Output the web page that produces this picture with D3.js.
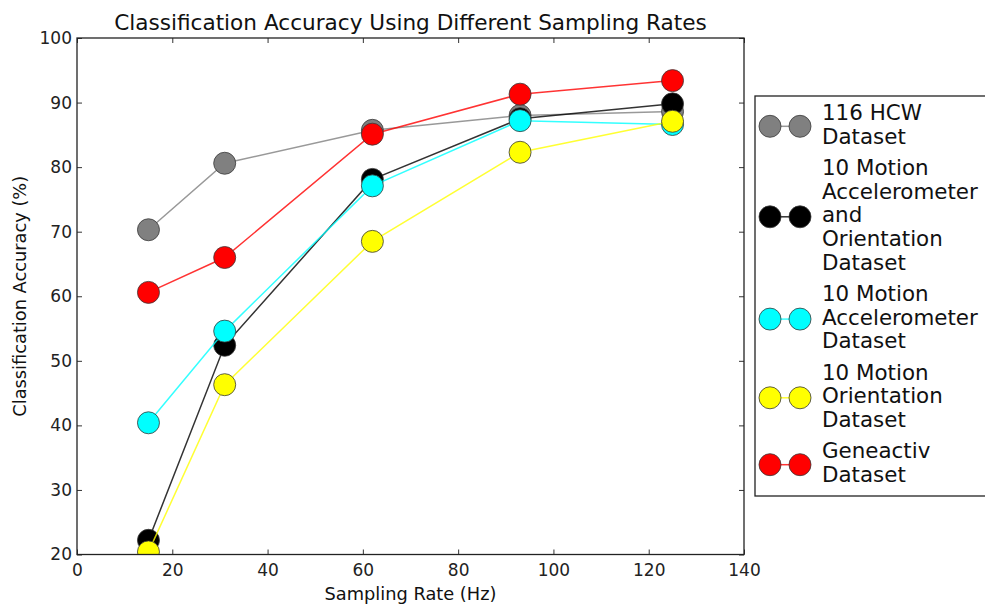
<!DOCTYPE html>
<html>
<head>
<meta charset="utf-8">
<script src="https://cdn.jsdelivr.net/npm/d3@7"></script>
<style>
  html, body { margin: 0; padding: 0; background: #fff; }
  svg { display: block; font-family: "DejaVu Sans", sans-serif; }
</style>
</head>
<body>
<svg id="chart" width="985" height="610"></svg>
<script>
// Sampling rates (Hz) shared by every dataset
const samplingRates = [15, 31, 62, 93, 125];

// Classification accuracy (%) per dataset
const hcw116 = [70.3, 80.6, 85.7, 88.0, 88.6];
const motionAccOri = [22.2, 52.4, 78.1, 87.5, 89.8];
const motionAcc = [40.4, 54.6, 77.1, 87.2, 86.6];
const motionOri = [20.4, 46.3, 68.5, 82.3, 87.1];
const geneactiv = [60.6, 66.0, 85.1, 91.3, 93.4];

const seriesNames = [
  ["116 HCW", "Dataset"],
  ["10 Motion", "Accelerometer", "and", "Orientation", "Dataset"],
  ["10 Motion", "Accelerometer", "Dataset"],
  ["10 Motion", "Orientation", "Dataset"],
  ["Geneactiv", "Dataset"]
];
const seriesValues = [hcw116, motionAccOri, motionAcc, motionOri, geneactiv];
const seriesColors = ["#808080", "#000000", "#00ffff", "#ffff00", "#ff0000"];

const xTicks = [0, 20, 40, 60, 80, 100, 120, 140];
const yTicks = [20, 30, 40, 50, 60, 70, 80, 90, 100];

const titleText = "Classification Accuracy Using Different Sampling Rates";
const xLabel = "Sampling Rate (Hz)";
const yLabel = "Classification Accuracy (%)";

const svg = d3.select("#chart");
const plot = { left: 77, right: 744, top: 38, bottom: 554.5 };

const x = d3.scaleLinear().domain([0, 140]).range([plot.left, plot.right]);
const y = d3.scaleLinear().domain([20, 100]).range([plot.bottom, plot.top]);

svg.append("defs").append("clipPath").attr("id", "plotClip")
  .append("rect")
  .attr("x", plot.left).attr("y", plot.top)
  .attr("width", plot.right - plot.left).attr("height", plot.bottom - plot.top);

// Ticks point inwards on all four sides
const tickLen = 5;
const axisStyle = g => {
  g.select(".domain").remove();
  g.selectAll(".tick line").attr("stroke", "#333").attr("stroke-width", 1);
  g.selectAll(".tick text").attr("fill", "#222").attr("font-size", 17)
    .attr("font-family", "DejaVu Sans, sans-serif");
};

svg.append("g").attr("transform", `translate(0,${plot.bottom})`)
  .call(d3.axisBottom(x).tickValues(xTicks).tickFormat(d3.format("d"))
    .tickSizeInner(-tickLen).tickSizeOuter(0).tickPadding(10))
  .call(axisStyle)
  .call(g => g.selectAll(".tick text").attr("dy", "0.71em").attr("y", 9));

svg.append("g").attr("transform", `translate(0,${plot.top})`)
  .call(d3.axisTop(x).tickValues(xTicks).tickFormat("").tickSizeInner(-tickLen).tickSizeOuter(0))
  .call(axisStyle);

svg.append("g").attr("transform", `translate(${plot.left},0)`)
  .call(d3.axisLeft(y).tickValues(yTicks).tickFormat(d3.format("d"))
    .tickSizeInner(-tickLen).tickSizeOuter(0).tickPadding(7))
  .call(axisStyle)
  .call(g => g.selectAll(".tick text").attr("x", -5));

svg.append("g").attr("transform", `translate(${plot.right},0)`)
  .call(d3.axisRight(y).tickValues(yTicks).tickFormat("").tickSizeInner(-tickLen).tickSizeOuter(0))
  .call(axisStyle);

// Series: line first, then markers, drawn in order
const line = d3.line().x((d, i) => x(samplingRates[i])).y(d => y(d));
const series = svg.append("g").attr("clip-path", "url(#plotClip)");
seriesValues.forEach((vals, k) => {
  const g = series.append("g");
  g.append("path").datum(vals)
    .attr("d", line)
    .attr("fill", "none")
    .attr("stroke", seriesColors[k])
    .attr("stroke-opacity", 0.8)
    .attr("stroke-width", 1.5);
  g.selectAll("circle").data(vals).join("circle")
    .attr("cx", (d, i) => x(samplingRates[i]))
    .attr("cy", d => y(d))
    .attr("r", 11)
    .attr("fill", seriesColors[k])
    .attr("stroke", "#3a3a3a")
    .attr("stroke-opacity", 0.8)
    .attr("stroke-width", 1);
});

// Plot frame
svg.append("rect")
  .attr("x", plot.left).attr("y", plot.top)
  .attr("width", plot.right - plot.left).attr("height", plot.bottom - plot.top)
  .attr("fill", "none").attr("stroke", "#222").attr("stroke-width", 1.3);

// Title and axis labels
svg.append("text")
  .attr("x", (plot.left + plot.right) / 2).attr("y", 30)
  .attr("text-anchor", "middle").attr("font-size", 21.6).attr("fill", "#111")
  .text(titleText);

svg.append("text")
  .attr("x", (plot.left + plot.right) / 2).attr("y", 600)
  .attr("text-anchor", "middle").attr("font-size", 17.8).attr("fill", "#111")
  .text(xLabel);

svg.append("text")
  .attr("transform", `translate(26,${(plot.top + plot.bottom) / 2}) rotate(-90)`)
  .attr("text-anchor", "middle").attr("font-size", 17.8).attr("fill", "#111")
  .text(yLabel);

// Legend
const legend = svg.append("g");
legend.append("rect")
  .attr("x", 755).attr("y", 96).attr("width", 260).attr("height", 400)
  .attr("fill", "#fff").attr("stroke", "#222").attr("stroke-width", 1.3);

const lineH = 23.6, entryGap = 7.9;
let baseline = 120;
seriesNames.forEach((lines, k) => {
  const first = baseline;
  const last = baseline + (lines.length - 1) * lineH;
  const cy = (first + last) / 2 - 5.5;
  const eg = legend.append("g");
  eg.append("line")
    .attr("x1", 770).attr("x2", 800).attr("y1", cy).attr("y2", cy)
    .attr("stroke", seriesColors[k]).attr("stroke-opacity", 0.8).attr("stroke-width", 1.5);
  eg.selectAll("circle").data([770, 800]).join("circle")
    .attr("cx", d => d).attr("cy", cy).attr("r", 11)
    .attr("fill", seriesColors[k]).attr("stroke", "#3a3a3a")
    .attr("stroke-opacity", 0.8).attr("stroke-width", 1);
  lines.forEach((t, j) => {
    eg.append("text")
      .attr("x", 822).attr("y", first + j * lineH)
      .attr("font-size", 21.4).attr("fill", "#111")
      .text(t);
  });
  baseline = last + lineH + entryGap;
});
</script>
</body>
</html>
